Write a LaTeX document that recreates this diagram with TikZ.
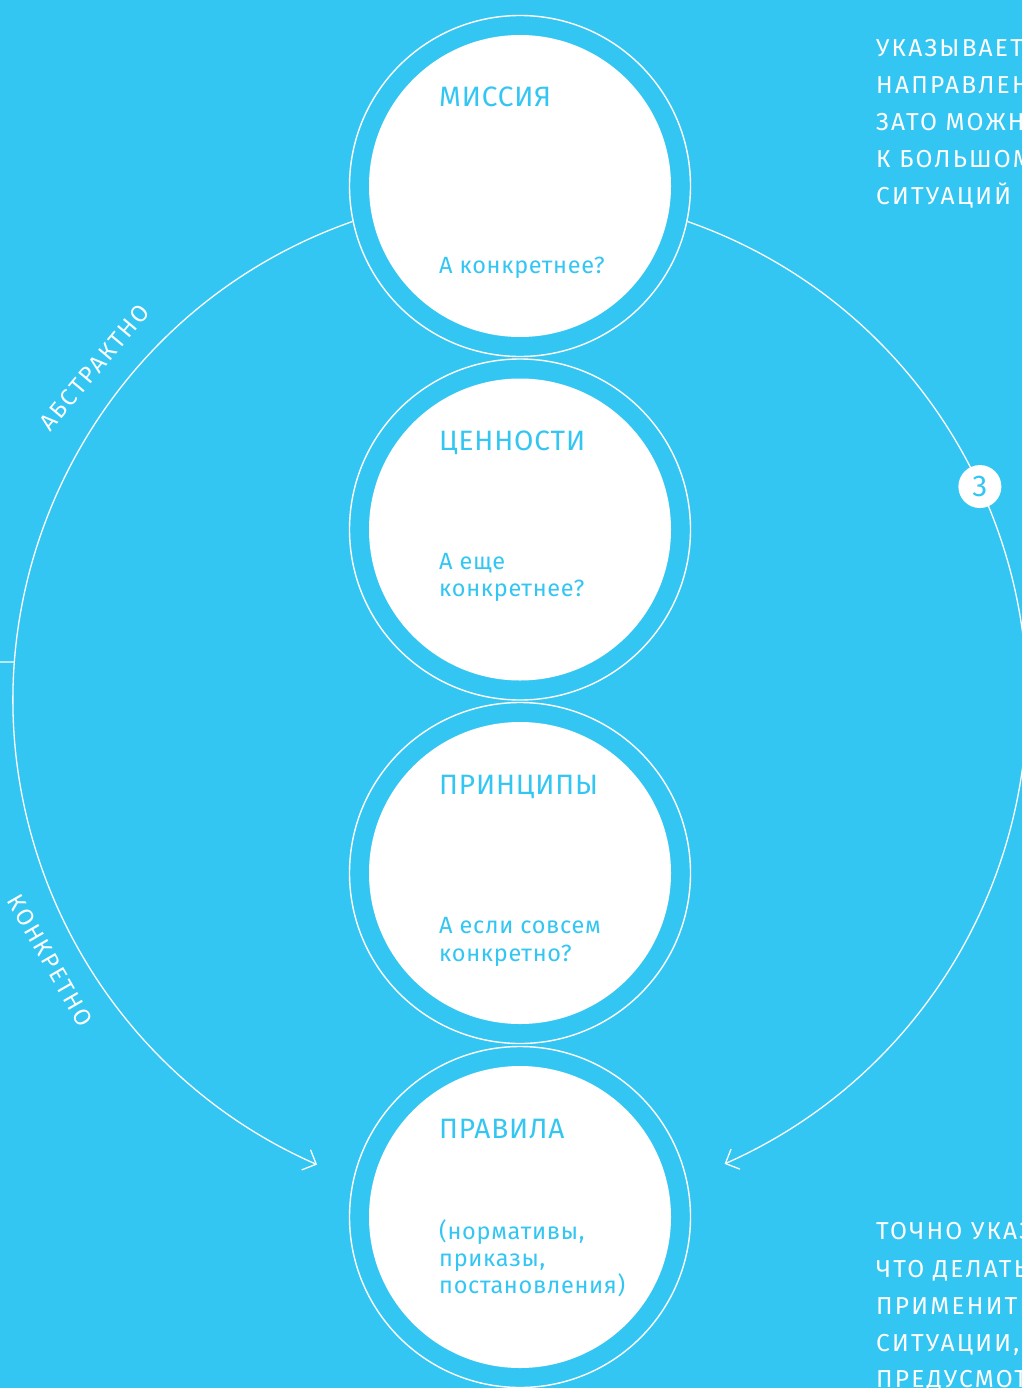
\documentclass[tikz,border=0pt]{standalone}
\usepackage{fontspec}
\setmainfont{Fira Sans}[Numbers=Lining]
\newfontfamily\wideA{Fira Sans}[LetterSpace=3,Numbers=Lining]
\newfontfamily\wideB{Fira Sans}[LetterSpace=9,Numbers=Lining]
\usetikzlibrary{arrows.meta}
\definecolor{bgc}{RGB}{52,198,243}
\tikzset{
  ring/.style={circle, draw=white, line width=1.4pt, minimum size=341pt, inner sep=0pt},
  disk/.style={circle, fill=white, minimum size=302pt, inner sep=0pt},
  ttl/.style={anchor=base west, inner sep=0pt, text=bgc, font=\wideA\fontsize{28}{32}\selectfont},
  sub/.style={anchor=base west, inner sep=0pt, text=bgc, font=\wideA\fontsize{23.5}{28}\selectfont},
  side/.style={anchor=base west, inner sep=0pt, text=white, font=\wideB\fontsize{24.5}{28}\selectfont},
  arclab/.style={inner sep=0pt, text=white, font=\wideB\fontsize{23.5}{26}\selectfont},
  flow/.style={draw=white, line width=1.3pt, -{Straight Barb[length=11pt,width=22pt,line width=1.3pt]}},
  badge/.style={circle, fill=white, minimum size=43pt, inner sep=0pt, text=bgc, font=\fontsize{30}{32}\selectfont}
}
\begin{document}
\begin{tikzpicture}[x=1pt,y=-1pt]
\fill[bgc] (0,0) rectangle (1022,1388);
\useasboundingbox (0,0) rectangle (1022,1388);
\clip (0,0) rectangle (1022,1388);
% big circle centre
\coordinate (bigc) at (520,700);
% circles
\foreach \n/\y in {1/186,2/529.5,3/873,4/1217}{
  \node[ring] (r\n) at (520,\y) {};
  \node[disk] (d\n) at (520,\y) {};
}
% arcs
\coordinate (ls) at ([shift={(250.7:507)}]bigc);
\coordinate (rs) at ([shift={(-70.7:507)}]bigc);
\draw[flow] (ls) arc[start angle=250.7, end angle=113.6, radius=507] coordinate (le);
\draw[flow] (rs) arc[start angle=-70.7, end angle=66.2, radius=507] coordinate (re);
% left tick
\coordinate (tk) at ([shift={(184.3:507)}]bigc);
\coordinate (tk0) at (0,662);
\draw[white, line width=1.3pt] (tk0) -- (tk);
% badge
\node[badge] (b3) at ([shift={(-24.9:507)}]bigc) {3};
% arc labels
\node[arclab, rotate=50] (abs) at ([shift={(218:540)}]bigc) {АБСТРАКТНО};
\node[arclab, rotate=-60] (kon) at ([shift={(151:537)}]bigc) {КОНКРЕТНО};
% circle texts
\node[ttl] (t1) at (439,107) {МИССИЯ};
\node[sub] (s1) at (439,273) {А конкретнее?};
\node[ttl] (t2) at (439,450) {ЦЕННОСТИ};
\node[sub] (s2a) at (439,569) {А еще};
\node[sub] (s2b) at (439,596) {конкретнее?};
\node[ttl] (t3) at (439,794) {ПРИНЦИПЫ};
\node[sub] (s3a) at (439,933) {А если совсем};
\node[sub] (s3b) at (439,961) {конкретно?};
\node[ttl] (t4) at (439,1138) {ПРАВИЛА};
\node[sub] (s4a) at (439,1239) {(нормативы,};
\node[sub] (s4b) at (439,1266) {приказы,};
\node[sub] (s4c) at (439,1293) {постановления)};
% side texts
\node[side] (u1) at (876,57) {УКАЗЫВАЕТ};
\node[side] (u2) at (876,94) {НАПРАВЛЕНИЕ,};
\node[side] (u3) at (876,131) {ЗАТО МОЖНО};
\node[side] (u4) at (876,168) {К БОЛЬШОМУ};
\node[side] (u5) at (876,205) {СИТУАЦИЙ};
\node[side] (v1) at (876,1239) {ТОЧНО УКАЗЫВАЕТ,};
\node[side] (v2) at (876,1277) {ЧТО ДЕЛАТЬ,};
\node[side] (v3) at (876,1314) {ПРИМЕНИТЬ};
\node[side] (v4) at (876,1351) {СИТУАЦИИ,};
\node[side] (v5) at (876,1387) {ПРЕДУСМОТРЕННЫЕ};
\end{tikzpicture}
\end{document}
